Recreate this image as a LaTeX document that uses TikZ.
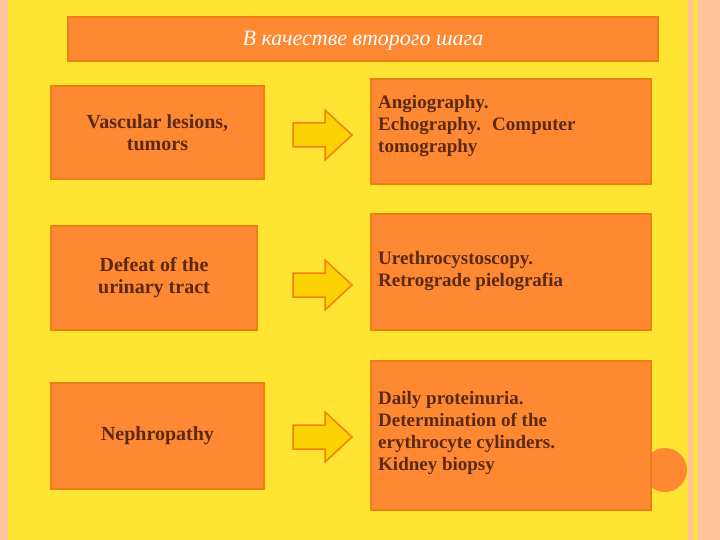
\documentclass[tikz,border=0pt]{standalone}
\usepackage{fontspec}
\setmainfont{Liberation Serif}
\begin{document}
\begin{tikzpicture}[x=1pt,y=-1pt,
  box/.style={draw=orange!70!brown,line width=2.5pt,fill=bx},
  lt/.style={font=\fontsize{20}{22}\selectfont\bfseries,text=txt,align=center},
  rt/.style={font=\fontsize{19}{22}\selectfont\bfseries,text=txt,align=left,anchor=north west,inner sep=0pt},
  arr/.style={draw=orange!80!brown,line width=1.5pt,fill=yellow!70!orange}]
\definecolor{bx}{HTML}{FF8833}
\definecolor{txt}{HTML}{5A2A10}
\definecolor{bg}{HTML}{FFE433}
\definecolor{pk}{HTML}{FFC49A}
\useasboundingbox (0,0) rectangle (720,540);
\fill[pk] (0,0) rectangle (720,540);
\fill[bg] (8,0) rectangle (688,540);
\fill[bg] (693,0) rectangle (697,540);
\fill[bx] (665,470) circle (22);
\node[box,minimum width=590,minimum height=44] (title) at (363,39) {};
\node[font=\fontsize{22}{24}\selectfont\itshape,text=white] (tt) at (363,41) {В качестве второго шага};
\node[box,minimum width=213,minimum height=93] (l1) at (157.5,132.5) {};
\node[lt] (lt1) at (l1) {Vascular lesions,\\tumors};
\node[box,minimum width=206,minimum height=104] (l2) at (154,278) {};
\node[lt] (lt2) at (l2) {Defeat of the\\urinary tract};
\node[box,minimum width=213,minimum height=106] (l3) at (157.5,436) {};
\node[lt] (lt3) at (l3) {Nephropathy};
\node[box,minimum width=280,minimum height=105] (r1) at (511,131.5) {};
\node[rt] (rt1) at (378,95) {Angiography.\\Echography.~ Computer\\tomography};
\node[box,minimum width=280,minimum height=116] (r2) at (511,272) {};
\node[rt] (rt2) at (378,251) {Urethrocystoscopy.\\Retrograde pielografia};
\node[box,minimum width=280,minimum height=149] (r3) at (511,435.5) {};
\node[rt] (rt3) at (378,391) {Daily proteinuria.\\Determination of the\\erythrocyte cylinders.\\Kidney biopsy};
\foreach \y/\n in {135/1,285/2,437/3}{
  \draw[arr] (293,\y-12) -- (325,\y-12) -- (325,\y-25) -- (352,\y) -- (325,\y+25) -- (325,\y+12) -- (293,\y+12) -- cycle;
}
\end{tikzpicture}
\end{document}
